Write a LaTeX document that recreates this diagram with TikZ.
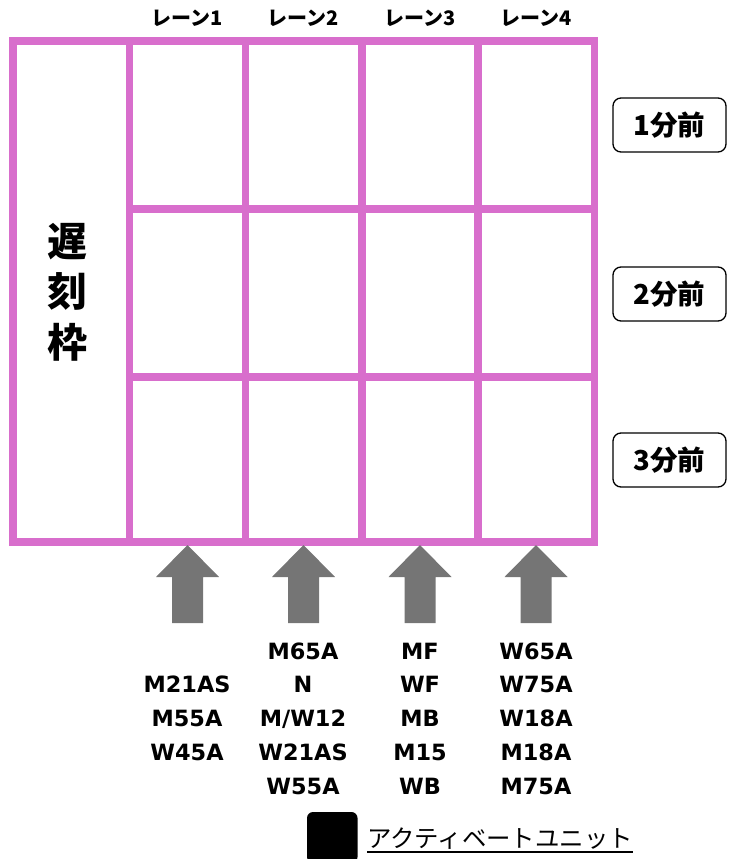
\documentclass[tikz,border=0pt]{standalone}
\usepackage{fontspec}
\newfontfamily\jp{Noto Sans CJK JP}
\newfontfamily\dv{DejaVu Sans}
\definecolor{gridpink}{RGB}{216,110,204}
\definecolor{arrowgray}{RGB}{117,117,117}
\tikzset{
  gridline/.style={draw=gridpink, line width=7.5pt},
  lanelbl/.style={font={\jp\bfseries\fontsize{20}{24}\selectfont}, inner sep=0pt},
  minbox/.style={draw=black, line width=1.3pt, rounded corners=8pt, minimum width=113pt, minimum height=54pt, inner sep=0pt, font={\jp\bfseries\fontsize{27.5}{30}\selectfont}},
  classlist/.style={align=center, inner sep=0pt, font={\dv\bfseries\fontsize{22.4}{33.8}\selectfont}},
  blockarrow/.style={fill=arrowgray, draw=none},
}
\begin{document}
\begin{tikzpicture}[x=1pt,y=-1pt]
\useasboundingbox (0,0) rectangle (728,859);
% grid
\draw[gridline] (13,41) rectangle (594.5,542);
\foreach \xx in {129.5,245.5,362,478}{
  \draw[gridline] (\xx,41) -- (\xx,542);
}
\foreach \yy in {209,377}{
  \draw[gridline] (129.5,\yy) -- (594.5,\yy);
}
% late column label
\node[inner sep=0pt, align=center, font={\jp\bfseries\fontsize{40}{50.5}\selectfont}] (late) at (67,292) {遅\\刻\\枠};
% lane labels
\node[lanelbl] (l1) at (187.5,18) {レーン1};
\node[lanelbl] (l2) at (303.5,18) {レーン2};
\node[lanelbl] (l3) at (420,18) {レーン3};
\node[lanelbl] (l4) at (536,18) {レーン4};
% minute boxes
\node[minbox] (m1) at (669.5,125) {1分前};
\node[minbox] (m2) at (669.5,294) {2分前};
\node[minbox] (m3) at (669.5,460) {3分前};
% arrows
\foreach \cx in {187.5,303.5,420,536}{
  \fill[blockarrow] (\cx,545) -- (\cx+31.5,577) -- (\cx+15.5,577) -- (\cx+15.5,623)
     -- (\cx-15.5,623) -- (\cx-15.5,577) -- (\cx-31.5,577) -- cycle;
}
% class lists
\node[classlist] (c1) at (187,718.5) {M21AS\\M55A\\W45A};
\node[classlist] (c2) at (303,718.5) {M65A\\N\\M/W12\\W21AS\\W55A};
\node[classlist] (c3) at (420,718.5) {MF\\WF\\MB\\M15\\WB};
\node[classlist] (c4) at (536,718.5) {W65A\\W75A\\W18A\\M18A\\M75A};
% legend
\fill[black, rounded corners=6pt] (307,812) rectangle (357.5,863);
\node[inner sep=0pt, anchor=base west, font={\jp\fontsize{24.4}{27}\selectfont}] (legend) at (367,847.5) {アクティベートユニット};
\draw[line width=1.8pt] ([yshift=-4.5pt]legend.base west) -- ([yshift=-4.5pt]legend.base east);
\end{tikzpicture}
\end{document}
